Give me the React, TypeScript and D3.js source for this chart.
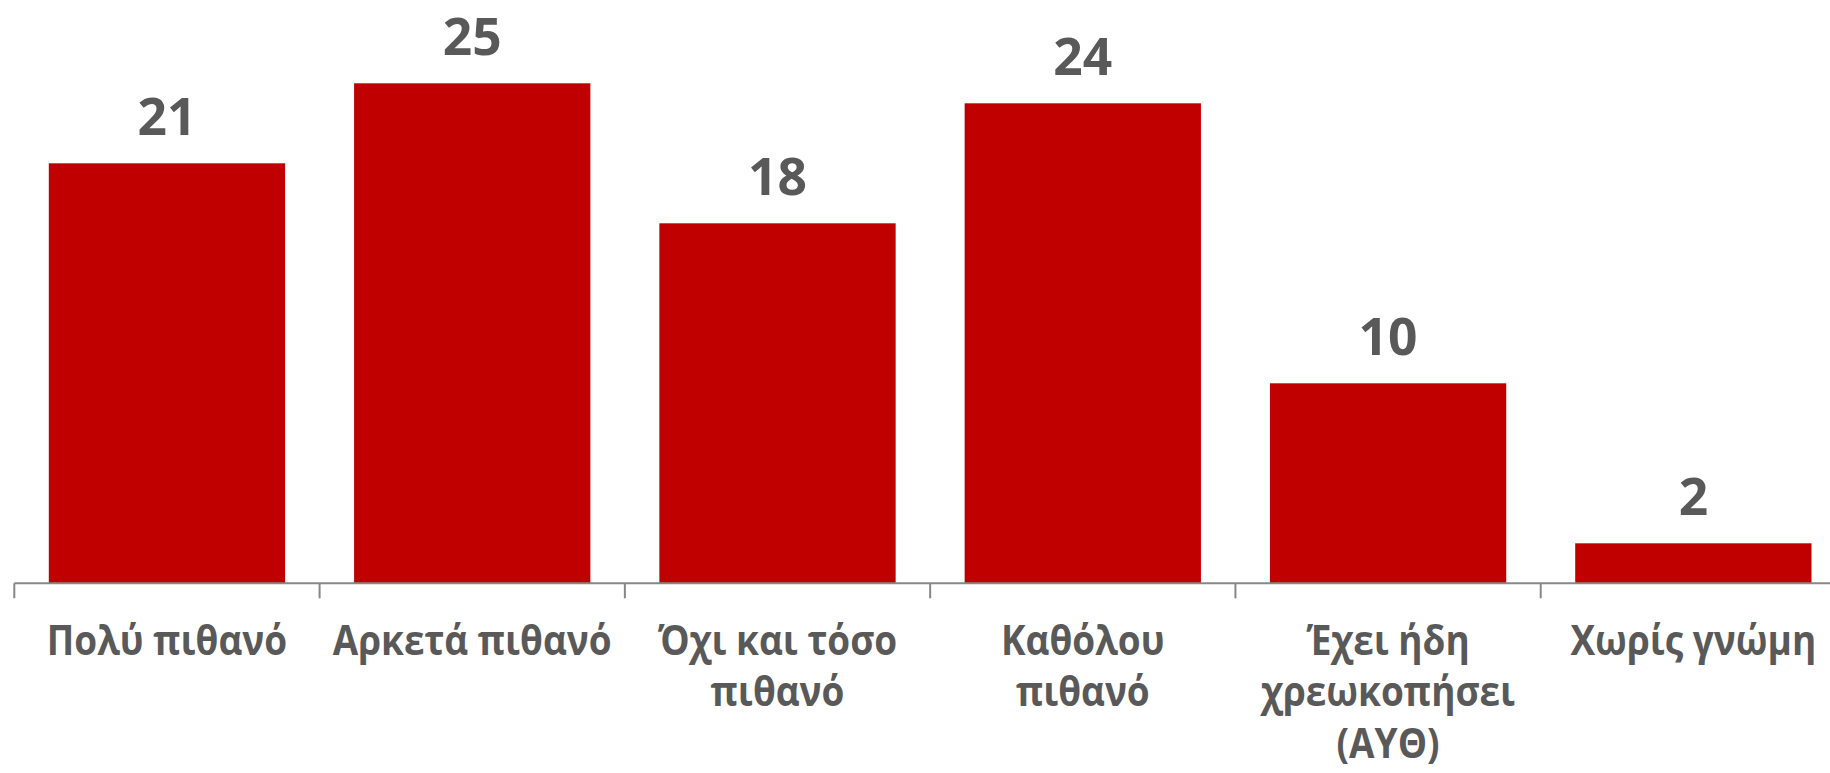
import React from "react";
import * as d3 from "d3";

const categories: string[] = [
  "Πολύ πιθανό",
  "Αρκετά πιθανό",
  "Όχι και τόσο\nπιθανό",
  "Καθόλου\nπιθανό",
  "Έχει ήδη\nχρεωκοπήσει\n(ΑΥΘ)",
  "Χωρίς γνώμη",
];
const values: number[] = [21, 25, 18, 24, 10, 2];

const W = 1830;
const H = 773;
const AXIS_Y = 583.3;
const FONT = "'Open Sans', 'Noto Sans', sans-serif";
const TEXT = "#595959";

export default function App() {
  const x = d3
    .scaleBand<string>()
    .domain(categories)
    .range([14.3, 1846])
    .paddingInner(0.226)
    .paddingOuter(0.113);
  const y = d3.scaleLinear().domain([0, 30]).range([AXIS_Y, AXIS_Y - 600]);
  const step = x.step();
  const r = x.range();

  return (
    <svg
      width={W}
      height={H}
      style={{ position: "absolute", left: 0, top: 0, background: "#fff" }}
    >
      {categories.map((c, i) => (
        <rect
          key={c}
          x={x(c)!}
          y={y(values[i])}
          width={x.bandwidth()}
          height={y(0) - y(values[i])}
          fill="#C00000"
        />
      ))}
      <line x1={r[0]} x2={r[1]} y1={AXIS_Y} y2={AXIS_Y} stroke="#878787" strokeWidth={2} />
      {d3.range(categories.length + 1).map((i) => (
        <line
          key={i}
          x1={r[0] + i * step}
          x2={r[0] + i * step}
          y1={AXIS_Y}
          y2={AXIS_Y + 15}
          stroke="#878787"
          strokeWidth={2}
        />
      ))}
      {categories.map((c, i) => (
        <text
          key={"v" + c}
          x={x(c)! + x.bandwidth() / 2}
          y={y(values[i]) - 28}
          textAnchor="middle"
          fontFamily={FONT}
          fontWeight={700}
          fontSize={51.5}
          fill={TEXT}
        >
          {values[i]}
        </text>
      ))}
      {categories.map((c) => (
        <text
          key={"c" + c}
          transform={`translate(${x(c)! + x.bandwidth() / 2},0) scale(0.89,1)`}
          textAnchor="middle"
          fontFamily={FONT}
          fontWeight={700}
          fontSize={41.5}
          fill={TEXT}
        >
          {c.split("\n").map((line, j) => (
            <tspan key={j} x={0} y={655 + j * 51.5}>
              {line}
            </tspan>
          ))}
        </text>
      ))}
    </svg>
  );
}
